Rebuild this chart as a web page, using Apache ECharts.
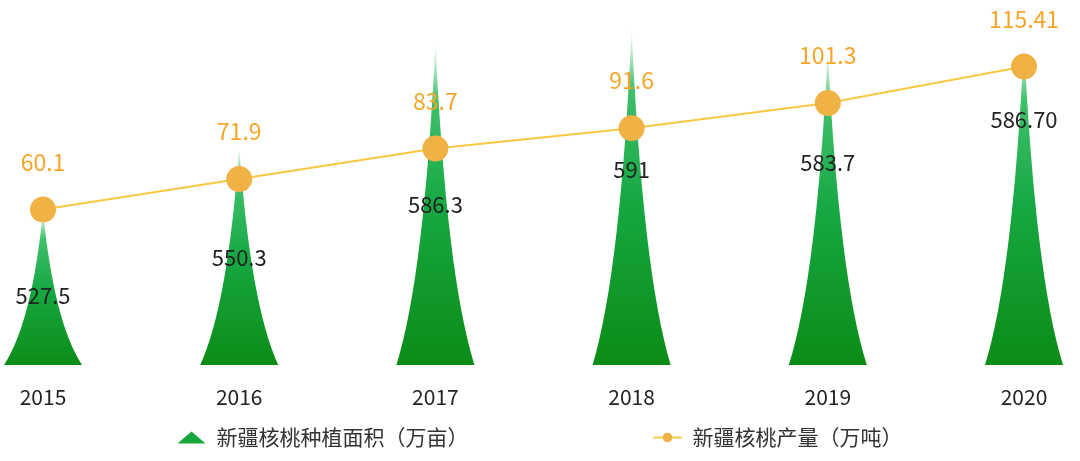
<!DOCTYPE html>
<html>
<head>
<meta charset="utf-8">
<script src="https://cdn.jsdelivr.net/npm/echarts@6/dist/echarts.min.js"></script>
<style>
html,body{margin:0;padding:0;background:#fff;}
#chart{width:1080px;height:461px;}
</style>
</head>
<body>
<div id="chart"></div>
<script>
const years = ['2015', '2016', '2017', '2018', '2019', '2020'];
const areaValues = [527.5, 550.3, 586.3, 591, 583.7, 586.7];
const areaLabels = ['527.5', '550.3', '586.3', '591', '583.7', '586.70'];
const outputValues = [60.1, 71.9, 83.7, 91.6, 101.3, 115.41];
const areaName = '新疆核桃种植面积（万亩）';
const outputName = '新疆核桃产量（万吨）';

// vertical nudges of the area labels (style only)
const labelShift = [7, 2, 1, -27, -45, -83];

const chart = echarts.init(document.getElementById('chart'));
const font = '"Noto Sans CJK SC", "Noto Sans", sans-serif';
const BAR_W = 78;

function renderSpike(params, api) {
  const idx = api.value(0);
  const top = api.coord([idx, api.value(1)]);
  const cs = params.coordSys;
  const bottom = cs.y + cs.height;
  const cx = top[0];
  const ty = top[1];
  const h = bottom - ty;
  const w = BAR_W;
  const path =
    'M' + (cx - w / 2) + ',' + bottom +
    ' Q' + (cx - 0.14 * w) + ',' + (bottom - 0.28 * h) + ' ' + cx + ',' + ty +
    ' Q' + (cx + 0.14 * w) + ',' + (bottom - 0.28 * h) + ' ' + (cx + w / 2) + ',' + bottom + ' Z';
  return {
    type: 'group',
    children: [
      {
        type: 'path',
        shape: { pathData: path },
        style: {
          fill: new echarts.graphic.LinearGradient(0, 0, 0, 1, [
            { offset: 0, color: 'rgba(40,190,100,0)' },
            { offset: 0.18, color: 'rgba(30,180,80,0.85)' },
            { offset: 0.5, color: '#17a843' },
            { offset: 1, color: '#0b8c16' }
          ])
        }
      },
      {
        type: 'text',
        z2: 10,
        style: {
          x: cx,
          y: (ty + bottom) / 2 + labelShift[params.dataIndex],
          text: areaLabels[params.dataIndex],
          fill: '#222',
          font: '22px ' + font,
          align: 'center',
          verticalAlign: 'middle'
        }
      }
    ]
  };
}

chart.setOption({
  backgroundColor: '#ffffff',
  textStyle: { fontFamily: font },
  grid: { left: 43, right: 56, top: 3, bottom: 96, containLabel: false },
  legend: {
    bottom: 8,
    left: 'center',
    itemGap: 184,
    itemWidth: 28,
    itemHeight: 12,
    textStyle: { fontSize: 21, color: '#333', fontFamily: font, padding: [0, 0, 0, 6] },
    data: [
      { name: areaName, icon: 'triangle', itemStyle: { color: '#17a63c' } },
      { name: outputName }
    ]
  },
  xAxis: {
    type: 'category',
    data: years,
    boundaryGap: false,
    axisLine: { show: false },
    axisTick: { show: false },
    axisLabel: { color: '#222', fontSize: 21, margin: 22, fontFamily: font }
  },
  yAxis: [
    { type: 'value', min: 474, max: 600, show: false },
    { type: 'value', min: 0, max: 140, show: false }
  ],
  series: [
    {
      name: areaName,
      type: 'custom',
      yAxisIndex: 0,
      z: 2,
      clip: false,
      itemStyle: { color: '#17a63c' },
      encode: { x: 0, y: 1 },
      renderItem: renderSpike,
      data: areaValues.map((v, i) => [i, v])
    },
    {
      name: outputName,
      type: 'line',
      yAxisIndex: 1,
      data: outputValues,
      z: 5,
      symbol: 'circle',
      symbolSize: 26,
      lineStyle: { color: '#f9c843', width: 2 },
      itemStyle: { color: '#f0b145' },
      label: {
        show: true,
        position: 'top',
        distance: 23,
        color: '#f5a52a',
        fontSize: 23,
        fontFamily: font
      }
    }
  ]
});
</script>
</body>
</html>
